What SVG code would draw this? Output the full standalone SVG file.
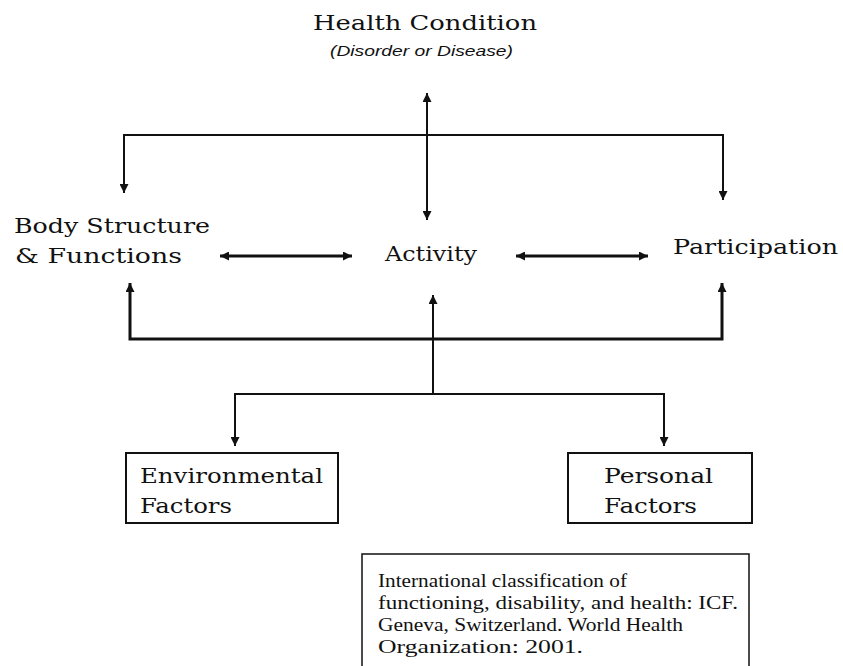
<svg xmlns="http://www.w3.org/2000/svg" width="843" height="666" viewBox="0 0 843 666">
<style>
.slab{font-family:"DejaVu Serif","Liberation Serif",serif;font-size:20px;fill:#111;}
.sub{font-family:"Liberation Sans",Arial,sans-serif;font-style:italic;font-size:15px;fill:#111;}
.cite{font-family:"Liberation Serif","Times New Roman",serif;font-size:18.5px;fill:#111;}
.ln{fill:none;stroke:#111;stroke-width:2;}
.thick{fill:none;stroke:#111;stroke-width:3;}
.box{fill:#fff;stroke:#111;stroke-width:2;}
</style>
<defs>
<marker id="ah" viewBox="0 0 10 10" refX="10" refY="5" markerWidth="9" markerHeight="9" markerUnits="userSpaceOnUse" orient="auto-start-reverse">
<path d="M0,0 L10,5 L0,10 z" fill="#111"/>
</marker>
</defs>
<rect width="843" height="666" fill="#fff"/>
<g id="connectors">
<line class="ln" x1="427" y1="93" x2="427" y2="220" marker-start="url(#ah)" marker-end="url(#ah)"/>
<path class="ln" d="M124,193 V135 H723 V200" marker-start="url(#ah)" marker-end="url(#ah)"/>
<line class="thick" x1="220" y1="256" x2="352" y2="256" marker-start="url(#ah)" marker-end="url(#ah)"/>
<line class="thick" x1="516" y1="256" x2="648" y2="256" marker-start="url(#ah)" marker-end="url(#ah)"/>
<path class="thick" d="M130,283 V339 H722 V283" marker-start="url(#ah)" marker-end="url(#ah)"/>
<line class="ln" x1="433" y1="394" x2="433" y2="295" marker-end="url(#ah)"/>
<path class="ln" d="M235,446 V394 H664 V446" marker-start="url(#ah)" marker-end="url(#ah)"/>
</g>
<g id="health-condition">
<text class="slab" x="313" y="30" textLength="224" lengthAdjust="spacingAndGlyphs">Health Condition</text>
<text class="sub" x="330" y="56" textLength="183" lengthAdjust="spacingAndGlyphs">(Disorder or Disease)</text>
</g>
<g id="body-structure">
<text class="slab" x="14" y="233" textLength="196" lengthAdjust="spacingAndGlyphs">Body Structure</text>
<text class="slab" x="15" y="263" textLength="167" lengthAdjust="spacingAndGlyphs">&amp; Functions</text>
</g>
<g id="activity">
<text class="slab" x="385" y="261" textLength="92" lengthAdjust="spacingAndGlyphs">Activity</text>
</g>
<g id="participation">
<text class="slab" x="673" y="254" textLength="165" lengthAdjust="spacingAndGlyphs">Participation</text>
</g>
<g id="environmental-factors">
<rect class="box" x="126" y="453" width="212" height="70"/>
<text class="slab" x="140" y="483" textLength="183" lengthAdjust="spacingAndGlyphs">Environmental</text>
<text class="slab" x="140" y="513" textLength="92" lengthAdjust="spacingAndGlyphs">Factors</text>
</g>
<g id="personal-factors">
<rect class="box" x="568" y="453" width="184" height="70"/>
<text class="slab" x="604" y="483" textLength="109" lengthAdjust="spacingAndGlyphs">Personal</text>
<text class="slab" x="604" y="513" textLength="93" lengthAdjust="spacingAndGlyphs">Factors</text>
</g>
<g id="citation">
<rect x="362" y="554" width="387" height="130" fill="#fff" stroke="#111" stroke-width="1.5"/>
<text class="cite" x="378" y="587" textLength="249" lengthAdjust="spacingAndGlyphs">International classification of</text>
<text class="cite" x="378" y="609" textLength="360" lengthAdjust="spacingAndGlyphs">functioning, disability, and health: ICF.</text>
<text class="cite" x="378" y="631" textLength="305" lengthAdjust="spacingAndGlyphs">Geneva, Switzerland. World Health</text>
<text class="cite" x="378" y="653" textLength="205" lengthAdjust="spacingAndGlyphs">Organization: 2001.</text>
</g>
</svg>
